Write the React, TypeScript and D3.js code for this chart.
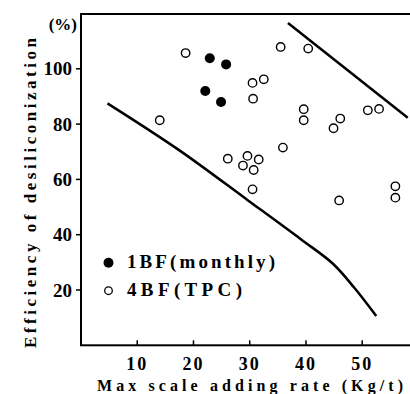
import * as d3 from 'd3'

const width = 410
const height = 394

// 1BF (monthly) - filled dots
const monthlyRate = [22.9, 25.8, 22.1, 24.9]
const monthlyEff = [103.8, 101.6, 92.0, 88.0]

// 4BF (TPC) - open circles
const tpcRate = [18.6, 14.0, 35.5, 40.4, 30.5, 32.5, 30.6, 39.6, 39.6, 46.1, 44.9, 51.0, 53.0, 35.9, 26.1, 29.6, 31.6, 28.8, 30.7, 30.5, 45.9, 55.9, 55.9]
const tpcEff = [105.7, 81.4, 107.9, 107.3, 94.9, 96.2, 89.2, 85.4, 81.4, 82.0, 78.5, 85.0, 85.5, 71.5, 67.5, 68.5, 67.2, 65.0, 63.4, 56.4, 52.4, 57.5, 53.4]

// boundary lines
const lowerRate = [4.7, 17.5, 29.7, 39.2, 44.8, 48.6, 52.5]
const lowerEff = [87.5, 70.5, 52.4, 38.2, 29.5, 20.8, 10.6]
const upperRate = [36.8, 58.1]
const upperEff = [116.6, 82.3]

const xTicks = [10, 20, 30, 40, 50]
const yTicks = [20, 40, 60, 80, 100]

const F = 'Liberation Serif'
const tStyle = { fontFamily: "'Liberation Serif', serif", fontWeight: 700 }

const x = d3.scaleLinear().domain([0, 58.5]).range([81, 410])
const y = d3.scaleLinear().domain([0, 120]).range([345.3, 13.5])

const line = d3.line<[number, number]>()
  .x(d => x(d[0]))
  .y(d => y(d[1]))
  .curve(d3.curveCatmullRom)

export default function App() {
  const left = x(0)
  const bottom = y(0)
  const top = 14

  const lower = lowerRate.map((r, i) => [r, lowerEff[i]] as [number, number])
  const upper = upperRate.map((r, i) => [r, upperEff[i]] as [number, number])

  return (
    <svg width={width} height={height} style={{ position: 'absolute', left: 0, top: 0 }}>
      {/* frame (right side falls outside the picture) */}
      <rect x={left} y={top} width={width + 5 - left} height={bottom - top} fill="none" stroke="#000" strokeWidth={2} />

      {/* y ticks */}
      {yTicks.map(t => (
        <g key={'y' + t}>
          <line x1={left - 5} x2={left} y1={y(t)} y2={y(t)} stroke="#000" strokeWidth={1.5} />
          <text x={72} y={y(t) + 6.5} textAnchor="end" fontFamily={F} fontWeight="bold" fontSize={19} style={tStyle}>{t}</text>
        </g>
      ))}

      {/* x ticks */}
      {xTicks.map(t => (
        <g key={'x' + t}>
          <line x1={x(t)} x2={x(t)} y1={bottom - 5} y2={bottom} stroke="#000" strokeWidth={1.5} />
          <text x={x(t)} y={370} textAnchor="middle" fontFamily={F} fontWeight="bold" fontSize={18} letterSpacing={2} style={tStyle}>{t}</text>
        </g>
      ))}

      {/* boundary lines */}
      <path d={line(lower)!} fill="none" stroke="#000" strokeWidth={2.5} />
      <path d={line(upper)!} fill="none" stroke="#000" strokeWidth={2.5} />

      {/* open circles */}
      {tpcRate.map((r, i) => (
        <circle key={'t' + i} cx={x(r)} cy={y(tpcEff[i])} r={4.2} fill="none" stroke="#000" strokeWidth={1.4} />
      ))}

      {/* filled dots */}
      {monthlyRate.map((r, i) => (
        <circle key={'m' + i} cx={x(r)} cy={y(monthlyEff[i])} r={5} fill="#000" />
      ))}

      {/* legend */}
      <circle cx={108.5} cy={262.7} r={5} fill="#000" />
      <circle cx={108.5} cy={290.7} r={3.8} fill="none" stroke="#000" strokeWidth={1.3} />
      <text x={127} y={268} fontFamily={F} fontWeight="bold" fontSize={19} textLength={148} lengthAdjust="spacing" style={tStyle}>1BF(monthly)</text>
      <text x={127} y={296} fontFamily={F} fontWeight="bold" fontSize={19} textLength={115} lengthAdjust="spacing" style={tStyle}>4BF(TPC)</text>

      {/* axis titles */}
      <text x={97} y={391} fontFamily={F} fontWeight="bold" fontSize={16} textLength={306} lengthAdjust="spacing" style={tStyle}>
        Max scale adding rate (Kg/t)
      </text>
      <text
        transform="translate(36,348) rotate(-90)"
        fontFamily={F}
        fontWeight="bold"
        fontSize={17}
        textLength={310}
        lengthAdjust="spacing"
        style={tStyle}
      >
        Efficiency of desiliconization
      </text>
      <text x={77} y={30} textAnchor="end" fontFamily={F} fontWeight="bold" fontSize={17} style={tStyle}>(%)</text>
    </svg>
  )
}
